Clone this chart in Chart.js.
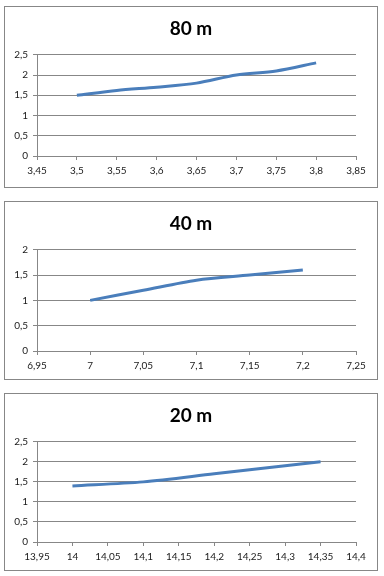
<!DOCTYPE html>
<html>
<head>
<meta charset="utf-8">
<script src="https://cdn.jsdelivr.net/npm/chart.js@4/dist/chart.umd.min.js"></script>
<style>
    html, body { margin: 0; padding: 0; background: #fff; }
    body { width: 384px; height: 576px; position: relative; overflow: hidden; }
    .panel { position: absolute; left: 4px; width: 372px; border: 1px solid #878787; background: #fff; }
    .panel canvas { display: block; }
</style>
</head>
<body>
<div class="panel" id="p80" style="top:6px;height:180px"><canvas id="c80" width="372" height="180"></canvas></div>
<div class="panel" id="p40" style="top:201px;height:177px"><canvas id="c40" width="372" height="177"></canvas></div>
<div class="panel" id="p20" style="top:393px;height:176px"><canvas id="c20" width="372" height="176"></canvas></div>
<script>
// 80 m band
const freq80 = [3.5, 3.55, 3.6, 3.65, 3.7, 3.75, 3.8];
const swr80 = [1.5, 1.62, 1.7, 1.8, 2.0, 2.1, 2.3];
const xTicks80 = [3.45, 3.5, 3.55, 3.6, 3.65, 3.7, 3.75, 3.8, 3.85];
const yTicks80 = [0, 0.5, 1, 1.5, 2, 2.5];

// 40 m band
const freq40 = [7, 7.05, 7.1, 7.15, 7.2];
const swr40 = [1.0, 1.2, 1.4, 1.5, 1.6];
const xTicks40 = [6.95, 7, 7.05, 7.1, 7.15, 7.2, 7.25];
const yTicks40 = [0, 0.5, 1, 1.5, 2];

// 20 m band
const freq20 = [14, 14.1, 14.2, 14.3, 14.35];
const swr20 = [1.4, 1.5, 1.7, 1.9, 2.0];
const xTicks20 = [13.95, 14, 14.05, 14.1, 14.15, 14.2, 14.25, 14.3, 14.35, 14.4];
const yTicks20 = [0, 0.5, 1, 1.5, 2, 2.5];

const axisGrey = '#878787';
const lineBlue = '#4a7ebb';

function fmt(v) {
    return String(Number(v.toFixed(2))).replace('.', ',');
}

function makeChart(id, title, freqs, vals, xTicks, yTicks, bottomH) {
    const points = freqs.map((f, i) => ({ x: f, y: vals[i] }));
    return new Chart(document.getElementById(id), {
        type: 'scatter',
        data: {
            datasets: [{
                data: points,
                showLine: true,
                borderColor: lineBlue,
                borderWidth: 3,
                pointRadius: 0,
                tension: 0.3,
                fill: false
            }]
        },
        options: {
            responsive: false,
            animation: false,
            layout: { padding: 0 },
            plugins: {
                legend: { display: false },
                tooltip: { enabled: false },
                title: {
                    display: true,
                    text: title,
                    color: '#000',
                    font: { family: 'Lato', size: 19, weight: 'bold', lineHeight: 1.2 },
                    padding: { top: 10, bottom: 15 }
                }
            },
            scales: {
                x: {
                    type: 'linear',
                    min: xTicks[0],
                    max: xTicks[xTicks.length - 1],
                    afterBuildTicks: axis => { axis.ticks = xTicks.map(v => ({ value: v })); },
                    afterFit: axis => { axis.height = bottomH; },
                    grid: { drawOnChartArea: false, drawTicks: true, tickLength: 4, color: axisGrey },
                    border: { display: true, color: axisGrey },
                    ticks: {
                        color: '#1a1a1a',
                        padding: 5,
                        maxRotation: 0,
                        autoSkip: false,
                        font: { family: 'Lato', size: 10 },
                        callback: v => fmt(v)
                    }
                },
                y: {
                    min: yTicks[0],
                    max: yTicks[yTicks.length - 1],
                    afterBuildTicks: axis => { axis.ticks = yTicks.map(v => ({ value: v })); },
                    afterFit: axis => { axis.width = 32; },
                    grid: { drawOnChartArea: true, drawTicks: true, tickLength: 4, color: axisGrey },
                    border: { display: true, color: axisGrey },
                    ticks: {
                        color: '#1a1a1a',
                        padding: 5,
                        font: { family: 'Lato', size: 10 },
                        callback: v => fmt(v)
                    }
                },
                // empty right gutter so the title stays centred on the panel
                gutter: {
                    type: 'linear',
                    position: 'right',
                    afterFit: axis => { axis.width = 21; },
                    grid: { display: false },
                    border: { display: false },
                    ticks: { display: false }
                }
            }
        }
    });
}

makeChart('c80', '80 m', freq80, swr80, xTicks80, yTicks80, 31);
makeChart('c40', '40 m', freq40, swr40, xTicks40, yTicks40, 28);
makeChart('c20', '20 m', freq20, swr20, xTicks20, yTicks20, 28);
</script>
</body>
</html>
